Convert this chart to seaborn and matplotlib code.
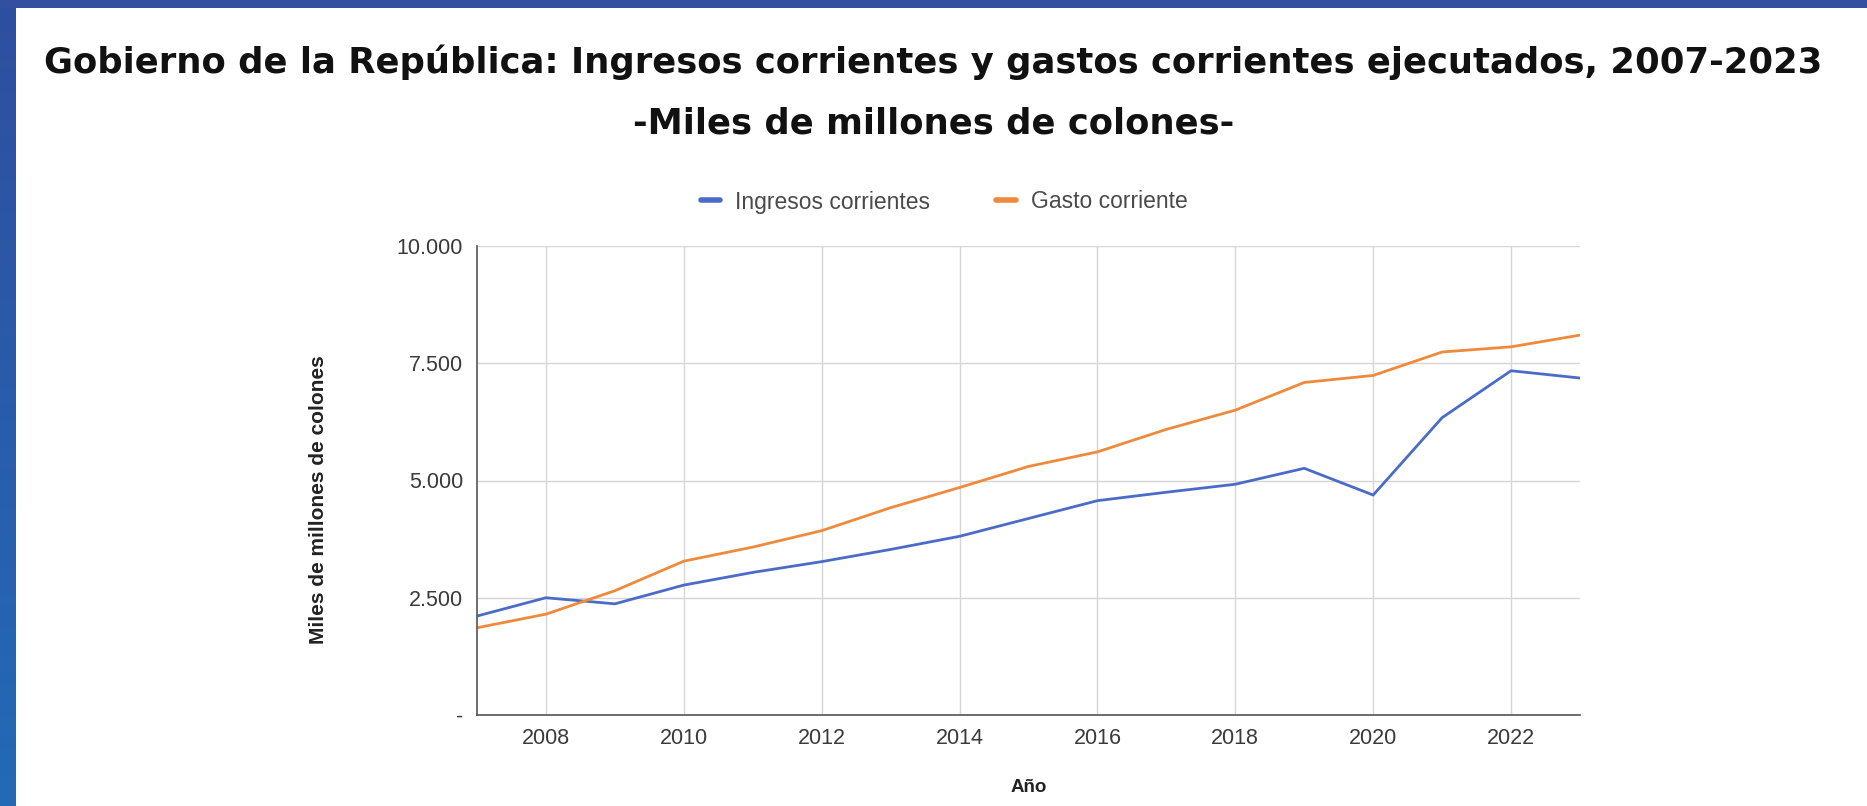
import numpy as np
import pandas as pd
import matplotlib
matplotlib.use("Agg")
import matplotlib.pyplot as plt
import seaborn as sns
from matplotlib.colors import LinearSegmentedColormap
from matplotlib.lines import Line2D

years = list(range(2007, 2024))
ingresos = [2110, 2500, 2370, 2770, 3040, 3270, 3530, 3810, 4190, 4570, 4750, 4920, 5260, 4690, 6340, 7340, 7185]
gasto = [1860, 2150, 2650, 3280, 3580, 3930, 4420, 4850, 5300, 5610, 6090, 6500, 7090, 7240, 7740, 7850, 8100]
series_names = ["Ingresos corrientes", "Gasto corriente"]
yticks = [0, 2500, 5000, 7500, 10000]
ytick_labels = ["-", "2.500", "5.000", "7.500", "10.000"]
xticks = [2008, 2010, 2012, 2014, 2016, 2018, 2020, 2022]

title = "Gobierno de la República: Ingresos corrientes y gastos corrientes ejecutados, 2007-2023"
subtitle = "-Miles de millones de colones-"

df = pd.DataFrame({
    "Año": years * 2,
    "valor": ingresos + gasto,
    "serie": [series_names[0]] * len(years) + [series_names[1]] * len(years),
})

sns.set_style("white")
plt.rcParams["font.family"] = ["Liberation Sans", "DejaVu Sans"]

W, H = 1867, 806
fig = plt.figure(figsize=(W / 100, H / 100), dpi=100)
fig.patch.set_facecolor("white")

# blue frame: left gradient bar and top bar
grad_ax = fig.add_axes([0, 0, 16 / W, 1])
grad = np.linspace(0, 1, 256).reshape(-1, 1)
cmap = LinearSegmentedColormap.from_list("bl", ["#2f4f9f", "#236ab6"])
grad_ax.imshow(grad, aspect="auto", cmap=cmap, extent=[0, 1, 0, 1])
grad_ax.axis("off")
top_ax = fig.add_axes([0, 1 - 8 / H, 1, 8 / H])
top_ax.set_facecolor("#32509f")
top_ax.set_xticks([]); top_ax.set_yticks([])
for s in top_ax.spines.values():
    s.set_visible(False)

ax = fig.add_axes([477 / W, 91 / H, (1580 - 477) / W, (715 - 246) / H])
palette = {series_names[0]: "#4a6cc8", series_names[1]: "#ef8a3c"}
sns.lineplot(data=df, x="Año", y="valor", hue="serie", palette=palette, linewidth=2.0, ax=ax, legend=False)

ax.set_xlim(2007, 2023)
ax.set_ylim(0, 10000)
ax.set_xticks(xticks)
ax.set_xticklabels([str(x) for x in xticks], fontsize=15.5, color="#3a3a3a")
ax.set_yticks(yticks)
ax.set_yticklabels(ytick_labels, fontsize=15.5, color="#3a3a3a")
ax.tick_params(axis="x", length=0, pad=9)
ax.tick_params(axis="y", length=0, pad=10)
ax.grid(True, color="#d6d6d6", linewidth=1)
ax.set_axisbelow(True)
for side in ["top", "right"]:
    ax.spines[side].set_visible(False)
for side in ["left", "bottom"]:
    ax.spines[side].set_color("#555555")
    ax.spines[side].set_linewidth(1.2)

ax.set_xlabel("Año", fontsize=13.5, fontweight="bold", color="#222222", va="center")
ax.xaxis.set_label_coords(0.5, (715 - 788) / 469)
ax.set_ylabel("Miles de millones de colones", fontsize=15, fontweight="bold", color="#222222", va="center")
ax.yaxis.set_label_coords((319 - 477) / 1103, 0.46)

handles = [Line2D([], [], color=palette[n], linewidth=4) for n in series_names]
fig.legend(handles, series_names, loc="center", bbox_to_anchor=(944 / W, 1 - 202 / H), ncol=2,
           frameon=False, fontsize=16.5, handlelength=0.85, columnspacing=2.9, handletextpad=0.65,
           labelcolor="#4a4a4a")

fig.text(0.5, 1 - 62 / H, title, ha="center", va="center", fontsize=25.5, fontweight="bold",
         color="#111111", family="DejaVu Sans")
fig.text(0.5, 1 - 123 / H, subtitle, ha="center", va="center", fontsize=25.5, fontweight="bold",
         color="#111111", family="DejaVu Sans")

fig.savefig("out.png", dpi=100, facecolor=fig.get_facecolor())
